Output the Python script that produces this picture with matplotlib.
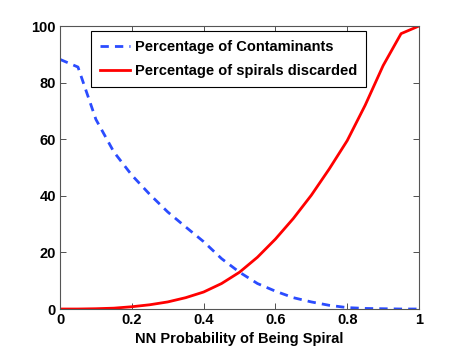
import matplotlib
matplotlib.use("Agg")
import matplotlib.pyplot as plt

# NN probability thresholds
prob = [0.0, 0.05, 0.1, 0.15, 0.2, 0.25, 0.3, 0.35, 0.4, 0.45, 0.5,
        0.55, 0.6, 0.65, 0.7, 0.75, 0.8, 0.85, 0.9, 0.95, 1.0]

# Percentage of contaminants (dashed blue)
contaminants = [88.2, 85.5, 67.0, 55.5, 47.3, 40.5, 34.3, 29.0, 23.8, 17.8, 13.0,
                9.0, 6.3, 4.0, 2.5, 1.3, 0.5, 0.2, 0.1, 0.0, 0.0]

# Percentage of spirals discarded (solid red)
discarded = [0.0, 0.0, 0.1, 0.3, 0.8, 1.5, 2.5, 4.0, 6.0, 9.0, 13.0,
             18.3, 24.7, 32.0, 40.2, 49.5, 59.5, 72.0, 86.0, 97.3, 100.0]

xticks = [0, 0.2, 0.4, 0.6, 0.8, 1]
xticklabels = ["0", "0.2", "0.4", "0.6", "0.8", "1"]
yticks = [0, 20, 40, 60, 80, 100]

plt.rcParams['font.family'] = ['Liberation Sans', 'DejaVu Sans']
plt.rcParams['font.weight'] = 'bold'

fig = plt.figure(figsize=(4.63, 3.49), dpi=100)
ax = fig.add_axes([0.1296, 0.1146, 0.7754, 0.8109])

ax.plot(prob, contaminants, '--', color='#2b4cff', lw=2, dashes=(3, 2.2),
        label='Percentage of Contaminants')
ax.plot(prob, discarded, '-', color='#ff0000', lw=2,
        label='Percentage of spirals discarded')

ax.set_xlim(0, 1)
ax.set_ylim(0, 100)
ax.set_xticks(xticks)
ax.set_xticklabels(xticklabels)
ax.set_yticks(yticks)
ax.tick_params(direction='in', length=4, width=0.6, labelsize=10.5,
               top=True, right=True, colors='#333333', labelcolor='black', pad=3)
for s in ax.spines.values():
    s.set_color('#555555')
    s.set_linewidth(0.8)

ax.set_xlabel('NN Probability of Being Spiral', fontsize=10.5, fontweight='bold',
              labelpad=3.5)

leg = ax.legend(loc='upper left', bbox_to_anchor=(0.086, 0.982), borderaxespad=0,
                fontsize=10.5, fancybox=False, framealpha=1, edgecolor='black',
                handlelength=2.1, handletextpad=0.3, borderpad=0.6,
                labelspacing=0.7)
leg.get_frame().set_linewidth(0.8)

fig.savefig('out.png', dpi=100)
